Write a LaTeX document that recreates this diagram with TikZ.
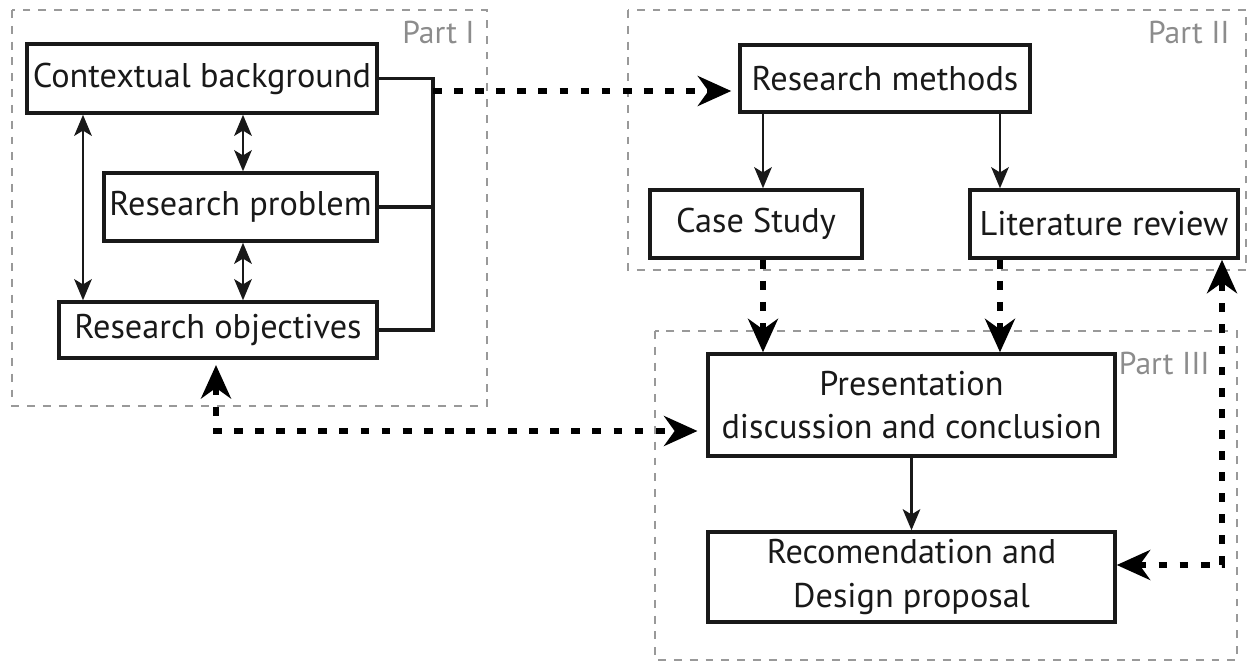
\documentclass[tikz,border=0pt]{standalone}
\usepackage{fontspec}
\setmainfont{PT Sans}
\usetikzlibrary{arrows.meta,calc}

\begin{document}
\begin{tikzpicture}[x=0.02cm,y=-0.02cm,
    box/.style={draw=black!90,line width=2pt,inner sep=0pt,align=center,
        font=\fontsize{19.5}{24.5}\selectfont,text=black!90},
    part/.style={draw=black!40,line width=1.1pt,dash pattern=on 4.5pt off 4.5pt},
    partlabel/.style={text=black!45,font=\fontsize{18}{20}\selectfont,anchor=east,inner sep=0pt},
    thin/.style={line width=1.4pt,draw=black!90},
    bigdash/.style={line width=3.6pt,dash pattern=on 5pt off 7pt,draw=black},
    thinhead/.tip={Stealth[length=12pt,width=10pt,inset=3pt]},
    thickhead/.tip={Stealth[length=19pt,width=17pt,inset=6pt]}
]
\useasboundingbox (0,0) rectangle (1248,664);

% Parts
\draw[part] (12,10) rectangle (487,406);
\draw[part] (628,10) rectangle (1246,270);
\draw[part] (655,331) rectangle (1237,660);
\node[partlabel] (p1) at (475,32) {Part I};
\node[partlabel] (p2) at (1230,32) {Part II};
\node[partlabel] (p3) at (1210,363) {Part III};

% Part I
\node[box,minimum width=7cm,minimum height=1.38cm] (ctx) at (202,78.5) {Contextual background};
\node[box,minimum width=5.46cm,minimum height=1.36cm] (prob) at (240.5,207) {Research problem};
\node[box,minimum width=6.36cm,minimum height=1.12cm] (obj) at (218,330) {Research objectives};

% Part II
\node[box,minimum width=5.8cm,minimum height=1.34cm] (meth) at (885,78.5) {Research methods};
\node[box,minimum width=4.24cm,minimum height=1.36cm] (case) at (756,224) {Case Study};
\node[box,minimum width=5.36cm,minimum height=1.36cm] (lit) at (1104,224) {Literature review};

% Part III
\node[box,minimum width=8.14cm,minimum height=2.04cm] (pres) at (911.5,405) {Presentation\\discussion and conclusion};
\node[box,minimum width=8.14cm,minimum height=1.8cm] (rec) at (911.5,577) {Recomendation and\\Design proposal};

% Key coordinates
\coordinate (brk) at (433,91);   % bracket
\coordinate (lx) at (83,0);      % long double arrow
\coordinate (mx) at (243,0);     % short double arrows
\coordinate (cs) at (763,0);     % case study column
\coordinate (lr) at (1000,0);    % literature column
\coordinate (r1) at (1222,565);  % corner right
\coordinate (o1) at (216,431);   % corner left

% Bracket
\draw[thin,line width=1.8pt] (ctx.east) -- (ctx.east -| brk) -- (obj.east -| brk) -- (obj.east);
\draw[thin,line width=1.8pt] (prob.east) -- (prob.east -| brk);

% Double arrows
\draw[thin,{thinhead}-{thinhead}] (ctx.south -| lx) -- (obj.north -| lx);
\draw[thin,{thinhead}-{thinhead}] (ctx.south -| mx) -- (prob.north -| mx);
\draw[thin,{thinhead}-{thinhead}] (prob.south -| mx) -- (obj.north -| mx);

% Methods
\draw[thin,-{thinhead}] (meth.south -| cs) -- (case.north -| cs);
\draw[thin,-{thinhead}] (meth.south -| lr) -- (lit.north -| lr);
\draw[thin,-{thinhead}] (pres.south) -- (rec.north);

% Dashed links
\draw[bigdash,-{thickhead},shorten >=4pt] (brk) -- (brk -| meth.west);
\draw[bigdash,-{thickhead}] (case.south -| cs) -- (pres.north -| cs);
\draw[bigdash,-{thickhead}] (lit.south -| lr) -- (pres.north -| lr);
\draw[bigdash,{thickhead}-{thickhead}] (r1 -| rec.east) -- (r1) -- (r1 |- lit.south);
\draw[bigdash,{thickhead}-{thickhead},shorten >=5pt,shorten <=3pt] (o1 |- obj.south) -- (o1) -- (o1 -| pres.west);

\end{tikzpicture}
\end{document}
